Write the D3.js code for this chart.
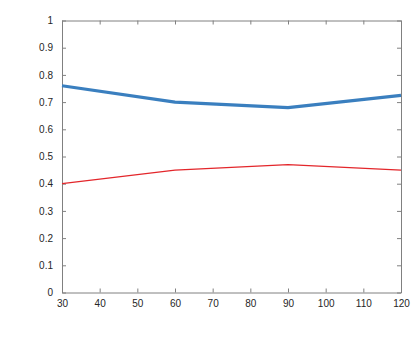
<!DOCTYPE html>
<html>
<head>
<meta charset="utf-8">
<script src="https://cdn.jsdelivr.net/npm/d3@7"></script>
<style>
  body { margin: 0; background: #fff; }
  svg text { font-family: "Liberation Sans", Arial, sans-serif; font-size: 10px; fill: #262626; }
</style>
</head>
<body>
<div id="chart"></div>
<script>
var xValues = [30, 60, 90, 120];
var blueSeries = [0.76, 0.70, 0.68, 0.725];
var redSeries = [0.40, 0.45, 0.47, 0.45];
var xTicks = [30, 40, 50, 60, 70, 80, 90, 100, 110, 120];
var yTicks = [0, 0.1, 0.2, 0.3, 0.4, 0.5, 0.6, 0.7, 0.8, 0.9, 1];

var width = 415, height = 340;
var margin = {left: 62, right: 14, top: 20.5, bottom: 47.5};
var w = width - margin.left - margin.right;
var h = height - margin.top - margin.bottom;

var svg = d3.select("#chart").append("svg")
    .attr("width", width).attr("height", height);
var g = svg.append("g")
    .attr("transform", "translate(" + margin.left + "," + margin.top + ")");

var x = d3.scaleLinear().domain([30, 120]).range([0, w]);
var y = d3.scaleLinear().domain([0, 1]).range([h, 0]);

var axisColor = "#808080";
var tickLen = 4;

// axes box with inward ticks on all sides
function styleAxis(sel) {
  sel.select(".domain").attr("stroke", axisColor);
  sel.selectAll(".tick line").attr("stroke", axisColor);
}

g.append("g")
    .attr("transform", "translate(0," + h + ")")
    .call(d3.axisBottom(x).tickValues(xTicks).tickSizeInner(-tickLen).tickSizeOuter(0).tickPadding(7))
    .call(styleAxis)
    .selectAll("text").attr("font-size", null);

g.append("g")
    .call(d3.axisTop(x).tickValues(xTicks).tickSizeInner(-tickLen).tickSizeOuter(0).tickFormat(""))
    .call(styleAxis);

g.append("g")
    .call(d3.axisLeft(y).tickValues(yTicks).tickSizeInner(-tickLen).tickSizeOuter(0).tickPadding(9)
      .tickFormat(function(d) { return d3.format("")(+d.toFixed(1)); }))
    .call(styleAxis)
    .selectAll("text").attr("font-size", null);

g.append("g")
    .attr("transform", "translate(" + w + ",0)")
    .call(d3.axisRight(y).tickValues(yTicks).tickSizeInner(-tickLen).tickSizeOuter(0).tickFormat(""))
    .call(styleAxis);

svg.selectAll(".tick text").attr("fill", "#262626").attr("font-family", null);
svg.selectAll("g[font-family]").attr("font-family", null).attr("font-size", null);

var line = d3.line()
    .x(function(d, i) { return x(xValues[i]); })
    .y(function(d) { return y(d); });

g.append("path")
    .attr("d", line(redSeries))
    .attr("fill", "none")
    .attr("stroke", "#e3262b")
    .attr("stroke-width", 1.2);

g.append("path")
    .attr("d", line(blueSeries))
    .attr("fill", "none")
    .attr("stroke", "#3a7fbf")
    .attr("stroke-width", 3.2)
    .attr("stroke-linejoin", "round");
</script>
</body>
</html>
